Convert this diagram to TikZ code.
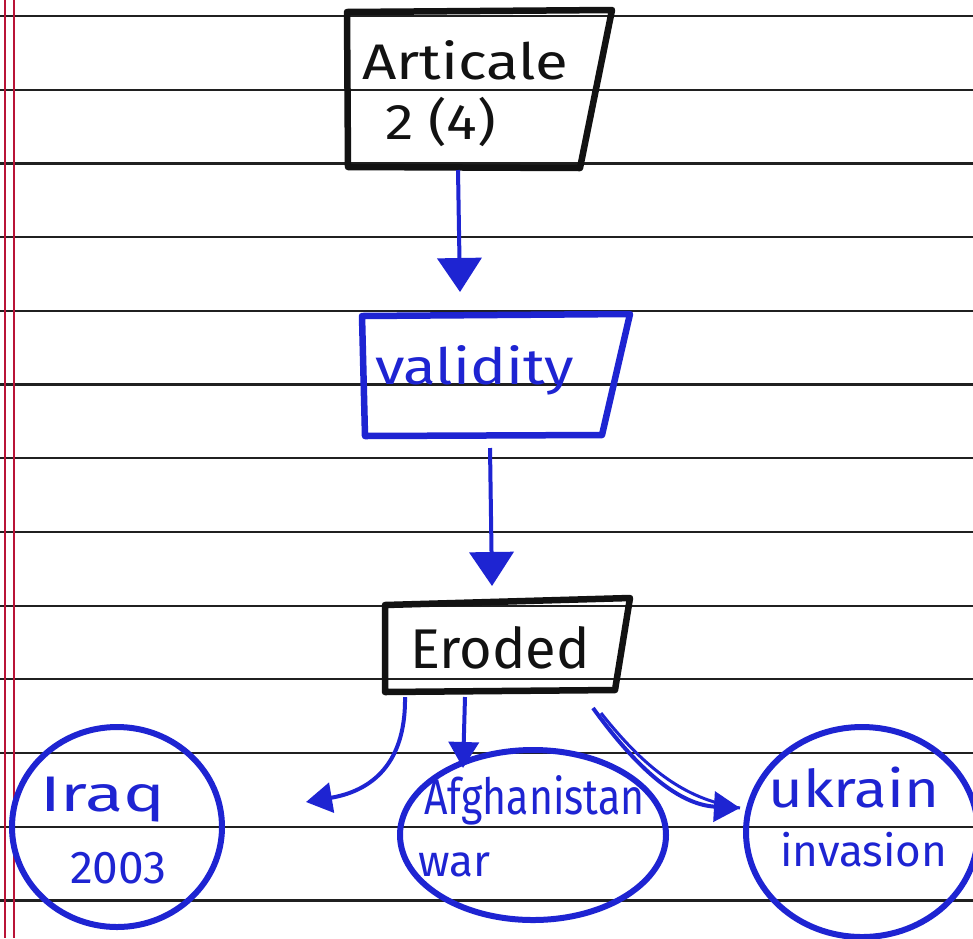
\documentclass[tikz,border=0pt]{standalone}
\usepackage{fontspec}
\setmainfont{Fira Sans}
\usetikzlibrary{arrows.meta,shapes.geometric}
\definecolor{ink}{RGB}{30,36,210}
\definecolor{pen}{RGB}{18,18,18}
\definecolor{rulecol}{RGB}{32,32,32}
\definecolor{margincol}{RGB}{185,20,55}
\tikzset{
  box/.style={line width=6.5pt, line join=round},
  ruling/.style={rulecol, line width=2.2pt},
  marginline/.style={margincol, line width=1.8pt},
  hand/.style={font=\fontsize{#1}{#1}\selectfont, inner sep=0pt, transform shape},
  hand/.default=56,
  flow/.style={ink, line width=4pt, -{Triangle[length=34pt,width=44pt]}},
  smallflow/.style={ink, line width=4pt, -{Triangle[length=26pt,width=30pt]}},
  bubble/.style={ellipse, draw=ink, line width=6pt, inner sep=0pt},
}
\begin{document}
\begin{tikzpicture}[x=1pt,y=-1pt]
\useasboundingbox (0,0) rectangle (973,938);
\fill[white] (0,0) rectangle (973,938);

% ruled notebook paper
\foreach \k in {0,...,12}
  \draw[ruling] (0,{16+73.7*\k}) -- (973,{16+73.7*\k});
\draw[marginline] (5,0) -- (5,938);
\draw[marginline] (14,0) -- (14,938);

% Article 2(4) box
\coordinate (artA) at (347,12);
\coordinate (artB) at (612,10);
\coordinate (artC) at (580,168);
\coordinate (artD) at (348,167);
\draw[box,pen] (artA) -- (artB) -- (artC) -- (artD) -- cycle;
\node[hand=50,text=pen,anchor=west,xscale=1.2] (art1) at (362,60) {Articale};
\node[hand=50,text=pen,anchor=west,xscale=1.15] (art2) at (385,122) {2 (4)};

% validity box
\coordinate (valA) at (362,316);
\coordinate (valB) at (630,314);
\coordinate (valC) at (602,435);
\coordinate (valD) at (365,436);
\draw[box,ink] (valA) -- (valB) -- (valC) -- (valD) -- cycle;
\node[hand=50,text=ink,anchor=west,xscale=1.2] (val) at (375,370) {validity};

% Eroded box
\coordinate (eroA) at (385,605);
\coordinate (eroB) at (630,598);
\coordinate (eroC) at (615,690);
\coordinate (eroD) at (385,692);
\draw[box,pen] (eroA) -- (eroB) -- (eroC) -- (eroD) -- cycle;
\node[hand=56,text=pen,anchor=west] (ero) at (410,648) {Eroded};

% outcome bubbles
\node[bubble,minimum width=210pt,minimum height=200pt] (iraq) at (117,827) {};
\node[hand=50,text=ink,anchor=west,xscale=1.4] (iraq1) at (40,800) {Iraq};
\node[hand=46,text=ink,anchor=west] (iraq2) at (70,868) {2003};

\node[bubble,minimum width=266pt,minimum height=170pt] (afg) at (533,835) {};
\node[hand=50,text=ink,anchor=west,xscale=0.82] (afg1) at (424,800) {Afghanistan};
\node[hand=44,text=ink,anchor=west] (afg2) at (418,865) {war};

\node[bubble,minimum width=232pt,minimum height=210pt] (ukr) at (862,832) {};
\node[hand=52,text=ink,anchor=west,xscale=1.15] (ukr1) at (768,788) {ukrain};
\node[hand=44,text=ink,anchor=west] (ukr2) at (780,850) {invasion};

% connectors
\coordinate (artS) at (458,170);
\coordinate (valN) at (460,292);
\draw[flow] (artS) -- (valN);

\coordinate (valS) at (490,448);
\coordinate (eroN) at (492,586);
\draw[flow] (valS) -- (eroN);

\coordinate (eroL) at (405,697);
\coordinate (iraqE) at (306,802);
\draw[smallflow] (eroL) .. controls (406,770) and (365,792) .. (iraqE);

\coordinate (eroM) at (465,697);
\coordinate (afgN) at (463,768);
\draw[smallflow] (eroM) -- (afgN);

\coordinate (eroR) at (593,708);
\coordinate (eroR2) at (601,713);
\coordinate (ukrW) at (740,808);
\draw[ink,line width=3pt] (eroR2) .. controls (650,775) and (690,800) .. (ukrW);
\draw[smallflow] (eroR) .. controls (645,780) and (685,805) .. (ukrW);
\end{tikzpicture}
\end{document}
